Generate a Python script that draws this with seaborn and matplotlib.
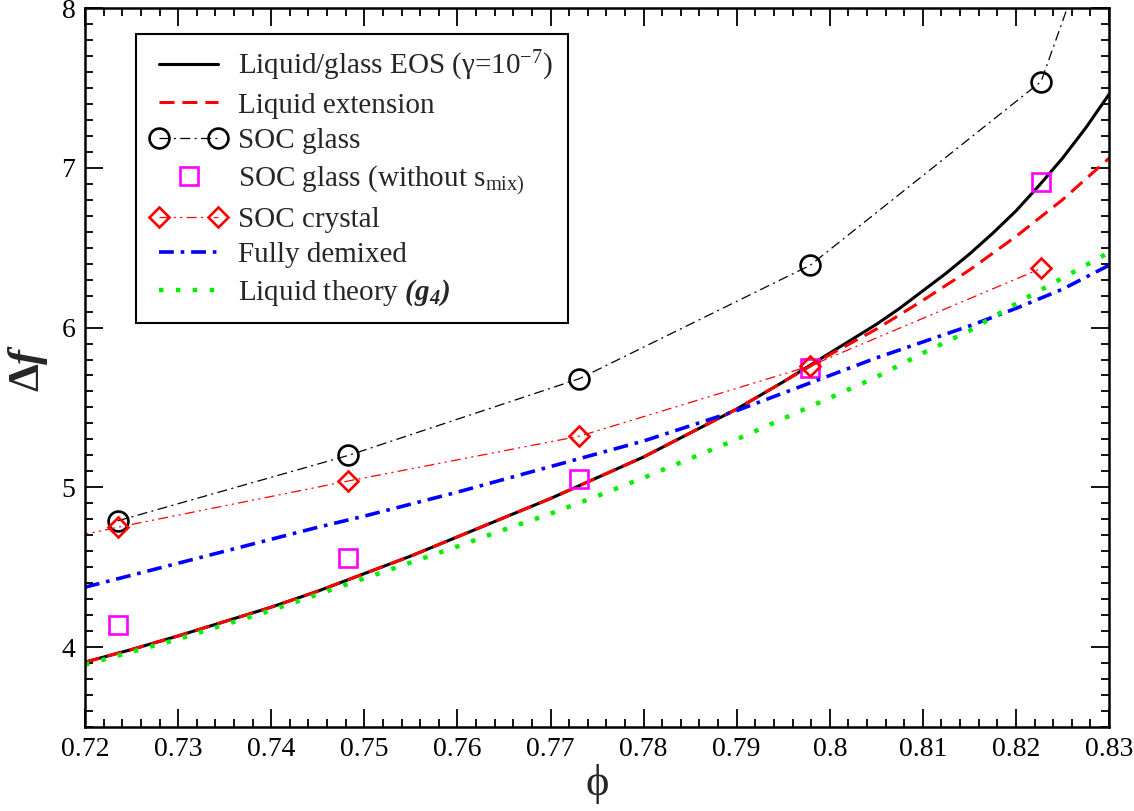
import numpy as np
import pandas as pd
import matplotlib
matplotlib.use("Agg")
import matplotlib.pyplot as plt
import seaborn as sns
from matplotlib.legend_handler import HandlerLine2D
from matplotlib.ticker import MultipleLocator, FuncFormatter

# ---------------- data ----------------
phi_grid = [0.720, 0.725, 0.730, 0.735, 0.740, 0.745, 0.750, 0.755, 0.760, 0.765,
            0.770, 0.775, 0.780, 0.785, 0.790, 0.795, 0.800, 0.805, 0.810, 0.815,
            0.820, 0.825, 0.830]
phi_eos = [0.720, 0.725, 0.730, 0.735, 0.740, 0.745, 0.750, 0.755, 0.760, 0.765,
           0.770, 0.775, 0.780, 0.785, 0.790, 0.795, 0.800, 0.8025, 0.805, 0.8075,
           0.810, 0.8125, 0.815, 0.8175, 0.820, 0.8225, 0.825, 0.8275, 0.830]
eos_glass = [3.906, 3.985, 4.07, 4.16, 4.25, 4.35, 4.46, 4.57, 4.69, 4.81,
             4.93, 5.06, 5.19, 5.34, 5.49, 5.66, 5.84, 5.93, 6.02, 6.12,
             6.23, 6.34, 6.46, 6.59, 6.73, 6.89, 7.06, 7.25, 7.46]
liquid_ext = [3.906, 3.985, 4.07, 4.16, 4.25, 4.35, 4.46, 4.57, 4.69, 4.81,
              4.93, 5.06, 5.19, 5.34, 5.49, 5.66, 5.83, 5.91, 5.99, 6.08,
              6.17, 6.265, 6.36, 6.465, 6.57, 6.685, 6.80, 6.93, 7.06]
demixed = [4.375, 4.45, 4.525, 4.60, 4.675, 4.75, 4.82, 4.895, 4.97, 5.05,
           5.13, 5.21, 5.29, 5.385, 5.48, 5.59, 5.70, 5.81, 5.91, 6.01,
           6.12, 6.24, 6.39]
liquid_g4 = [3.89, 3.97, 4.05, 4.14, 4.23, 4.33, 4.43, 4.53, 4.63, 4.735,
             4.835, 4.945, 5.06, 5.18, 5.30, 5.43, 5.56, 5.69, 5.84, 5.98,
             6.15, 6.31, 6.47]

soc_phi = [0.7235, 0.7483, 0.7731, 0.7979, 0.8227]
soc_glass_phi = [0.7235, 0.7483, 0.7731, 0.7979, 0.8227, 0.8475]
soc_glass = [4.79, 5.20, 5.68, 6.39, 7.54, 11.6]
soc_glass_nomix = [4.14, 4.56, 5.05, 5.75, 6.91]
soc_crystal_phi = [0.6987, 0.7235, 0.7483, 0.7731, 0.7979, 0.8227]
soc_crystal = [4.44, 4.75, 5.04, 5.32, 5.76, 6.37]

x_ticks = [0.72, 0.73, 0.74, 0.75, 0.76, 0.77, 0.78, 0.79, 0.80, 0.81, 0.82, 0.83]
y_ticks = [4, 5, 6, 7, 8]

labels = [
    "Liquid/glass EOS (γ=10$^{-7}$)",
    "Liquid extension",
    "SOC glass",
    "SOC glass (without s$_{\\rm mix)}$",
    "SOC crystal",
    "Fully demixed",
    "Liquid theory $\\mathbfit{(g_4)}$",
]

# ---------------- style ----------------
sns.set_theme(style="ticks")
plt.rcParams["font.family"] = ["Liberation Serif", "DejaVu Serif"]
plt.rcParams["mathtext.fontset"] = "custom"
plt.rcParams["mathtext.rm"] = "Liberation Serif"
plt.rcParams["mathtext.it"] = "Liberation Serif:italic"
plt.rcParams["mathtext.bf"] = "Liberation Serif:bold"
plt.rcParams["mathtext.bfit"] = "Liberation Serif:italic:bold"

fig = plt.figure(figsize=(11.34, 8.11), dpi=100)
ax = fig.add_axes([0.075, 0.1036, 0.903, 0.8865])

def last_line():
    return ax.lines[-1]

sns.lineplot(x=phi_eos, y=eos_glass, color="black", lw=2.2, ax=ax, label=labels[0])
l_eos = last_line()

sns.lineplot(x=phi_eos, y=liquid_ext, color="#ff0000", lw=2.2, ax=ax, label=labels[1])
l_ext = last_line(); l_ext.set_dashes([4.9, 2.6])

sns.lineplot(x=soc_glass_phi, y=soc_glass, color="black", lw=0.9, marker="o",
             markersize=14.3, markerfacecolor="none", markeredgecolor="black",
             markeredgewidth=1.9, ax=ax, label=labels[2])
l_glass = last_line(); l_glass.set_dashes([8, 3.5, 1.6, 3.5])

sns.lineplot(x=soc_phi, y=soc_glass_nomix, color="#ff00ff", linestyle="none", marker="s",
             markersize=13.2, markerfacecolor="none", markeredgecolor="#ff00ff",
             markeredgewidth=1.9, ax=ax, label=labels[3])
l_sq = last_line()

sns.lineplot(x=soc_crystal_phi, y=soc_crystal, color="#ff0000", lw=0.9, marker="D",
             markersize=10.6, markerfacecolor="none", markeredgecolor="#ff0000",
             markeredgewidth=1.9, ax=ax, label=labels[4])
l_cr = last_line(); l_cr.set_dashes([8, 3.5, 1.6, 3.5, 1.6, 3.5])

sns.lineplot(x=phi_grid, y=demixed, color="#0000ff", lw=2.6, ax=ax, label=labels[5])
l_dem = last_line(); l_dem.set_dashes([4.1, 1.9, 1.0, 1.9])

sns.lineplot(x=phi_grid, y=liquid_g4, color="#00ee00", lw=3.2, ax=ax, label=labels[6])
l_g4 = last_line(); l_g4.set_dashes([1.0, 2.8])
for ln in ax.lines:
    ln.set_dash_capstyle("butt")

# ---------------- axes ----------------
ax.set_xlim(0.72, 0.83)
ax.set_ylim(3.5, 8.0)
ax.set_xticks(x_ticks)
ax.set_yticks(y_ticks)
ax.xaxis.set_major_formatter(FuncFormatter(lambda v, p: "%g" % round(v, 3)))
ax.yaxis.set_major_formatter(FuncFormatter(lambda v, p: "%g" % v))
ax.xaxis.set_minor_locator(MultipleLocator(0.002))
ax.yaxis.set_minor_locator(MultipleLocator(0.1))
ax.tick_params(which="both", direction="in", top=True, right=True, color="black",
               labelcolor="black", width=1.3)
ax.tick_params(which="major", length=13, labelsize=20, pad=7)
ax.tick_params(which="minor", length=6)
for s in ax.spines.values():
    s.set_linewidth(1.8)
    s.set_color("black")

ax.set_xlabel("ϕ", fontsize=32, labelpad=2)
ax.set_ylabel("$\\mathbf{\\Delta}\\mathbfit{f}$", fontsize=32, labelpad=8)

handles = [l_eos, l_ext, l_glass, l_sq, l_cr, l_dem, l_g4]
leg = ax.legend(handles, labels, loc="upper left", bbox_to_anchor=(0.0498, 0.9638),
                borderaxespad=0, fontsize=21, numpoints=2, handlelength=2.6,
                handletextpad=0.4, borderpad=0.5, labelspacing=0.32,
                fancybox=False, framealpha=1, edgecolor="black",
                handler_map={l_sq: HandlerLine2D(numpoints=1)})
leg.get_frame().set_linewidth(1.5)

fig.savefig("out.png", dpi=100)
